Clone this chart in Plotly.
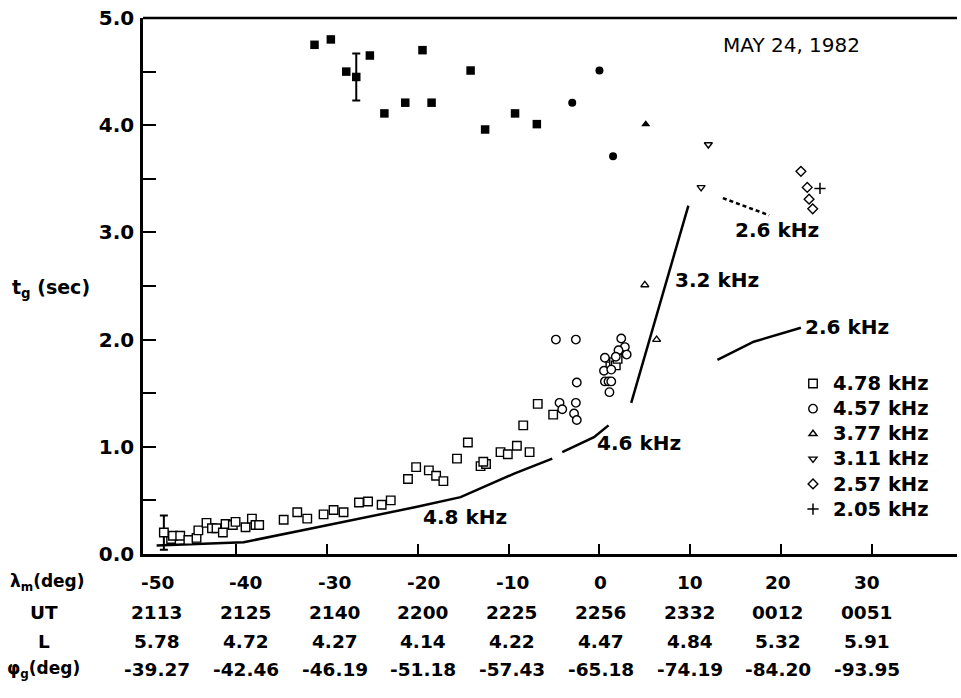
import plotly.graph_objects as go

# ---- group delay data (lambda_m in degrees, t_g in seconds) ----
sq478_x = [-47.2, -47.0, -46.2, -45.3, -44.4, -44.2, -43.3, -42.7, -42.2, -41.5,
           -41.2, -40.4, -40.1, -39.0, -38.3, -37.9, -37.5, -34.8, -33.3, -32.2,
           -30.4, -29.3, -28.2, -26.5, -25.5, -24.0, -23.0, -21.1, -20.2, -18.8,
           -18.0, -17.2, -15.7, -14.5, -13.1, -12.5, -12.8, -10.9, -10.1, -9.1,
           -7.7, -8.4, -6.8, -5.1, 1.2, 1.6, 1.8, 2.0]
sq478_y = [0.14, 0.17, 0.17, 0.13, 0.15, 0.22, 0.29, 0.24, 0.24, 0.20,
           0.28, 0.27, 0.30, 0.25, 0.33, 0.27, 0.27, 0.32, 0.39, 0.33,
           0.37, 0.41, 0.39, 0.48, 0.49, 0.46, 0.50, 0.70, 0.81, 0.78,
           0.73, 0.68, 0.89, 1.04, 0.82, 0.84, 0.86, 0.95, 0.93, 1.01,
           0.95, 1.20, 1.40, 1.30, 1.75, 1.79, 1.76, 1.82]
sq478_err_x = [-48.0]
sq478_err_y = [0.20]
sq478_err = [0.16]

ci457_x = [-4.8, -2.6, -2.5, -4.4, -4.1, -2.6, -2.8, -2.5, 2.4, 2.8,
           2.1, 3.0, 0.6, 0.5, 1.3, 0.6, 1.0, 1.3, 1.1, 1.8]
ci457_y = [2.00, 2.00, 1.60, 1.41, 1.35, 1.41, 1.31, 1.25, 2.01, 1.93,
           1.90, 1.86, 1.83, 1.71, 1.72, 1.61, 1.61, 1.61, 1.51, 1.84]

tu377_x = [5.0, 6.3]
tu377_y = [2.51, 2.00]
td311_x = [12.0, 11.2]
td311_y = [3.82, 3.42]
di257_x = [22.2, 22.9, 23.1, 23.5]
di257_y = [3.57, 3.42, 3.31, 3.22]
pl205_x = [24.3]
pl205_y = [3.41]

# filled symbols (upper group)
fsq_x = [-31.4, -29.6, -27.9, -25.3, -19.5, -23.7, -21.4, -18.5, -14.2, -12.6, -9.3, -6.9]
fsq_y = [4.75, 4.80, 4.50, 4.65, 4.70, 4.11, 4.21, 4.21, 4.51, 3.96, 4.11, 4.01]
fsq_err_x = [-26.8]
fsq_err_y = [4.45]
fsq_err = [0.22]
fci_x = [-3.0, 0.0, 1.5]
fci_y = [4.21, 4.51, 3.71]
ftr_x = [5.1]
ftr_y = [4.01]

# model curves
c48_x = [-48.8, -39.2, -31.1, -25.2, -20.1, -15.3, -13.1, -9.4, -5.2]
c48_y = [0.08, 0.11, 0.25, 0.35, 0.44, 0.53, 0.61, 0.75, 0.89]
c46_x = [-4.1, -0.6, 1.0]
c46_y = [0.95, 1.09, 1.20]
c32_x = [3.5, 9.8]
c32_y = [1.41, 3.25]
c26_x = [13.0, 17.0, 22.2]
c26_y = [1.81, 1.98, 2.11]
c26d_x = [13.6, 18.7]
c26d_y = [3.32, 3.16]

# table beneath the axis
lam_vals = ["-50", "-40", "-30", "-20", "-10", "0", "10", "20", "30"]
ut_vals = ["2113", "2125", "2140", "2200", "2225", "2256", "2332", "0012", "0051"]
l_vals = ["5.78", "4.72", "4.27", "4.14", "4.22", "4.47", "4.84", "5.32", "5.91"]
phi_vals = ["-39.27", "-42.46", "-46.19", "-51.18", "-57.43", "-65.18", "-74.19", "-84.20", "-93.95"]

y_ticks = [0, 1, 2, 3, 4, 5]
y_ticktext = ["0.0", "1.0", "2.0", "3.0", "4.0", "5.0"]
x_ticks = [-40, -30, -20, -10, 0, 10, 20, 30]

FONT = "DejaVu Sans"
BLK = "black"

# plot frame in pixels
W, H = 961, 698
PL, PR, PT, PB = 143, 957, 18, 554


def xp(px):
    return (px - PL) / (PR - PL)


def yp(py):
    return (PB - py) / (PB - PT)


def big(s):
    return f"<span style='font-size:19.5px'>{s}</span>"


fig = go.Figure()


def open_pts(x, y, sym, name, size=8, legend=True):
    fig.add_trace(go.Scatter(
        x=x, y=y, mode="markers", name=big(name), showlegend=legend,
        marker=dict(symbol=sym, size=size, color="white",
                    line=dict(color=BLK, width=1.4))))


def lines(x, y, dash="solid"):
    fig.add_trace(go.Scatter(x=x, y=y, mode="lines", showlegend=False,
                             line=dict(color=BLK, width=2.5, dash=dash)))


lines(c48_x, c48_y)
lines(c46_x, c46_y)
lines(c32_x, c32_y)
lines(c26_x, c26_y)
lines(c26d_x, c26d_y, dash="4px,3px")

open_pts(sq478_x, sq478_y, "square", "4.78 kHz", size=8.5)
fig.add_trace(go.Scatter(
    x=sq478_err_x, y=sq478_err_y, mode="markers", showlegend=False,
    marker=dict(symbol="square", size=8.5, color="white", line=dict(color=BLK, width=1.4)),
    error_y=dict(type="data", array=sq478_err, color=BLK, thickness=2, width=4)))
open_pts(ci457_x, ci457_y, "circle", "4.57 kHz", size=8.5)
open_pts(tu377_x, tu377_y, "triangle-up", "3.77 kHz", size=7)
open_pts(td311_x, td311_y, "triangle-down", "3.11 kHz", size=7)
open_pts(di257_x, di257_y, "diamond", "2.57 kHz", size=7.5)
fig.add_trace(go.Scatter(
    x=pl205_x, y=pl205_y, mode="markers", name=big("2.05 kHz"),
    marker=dict(symbol="cross-thin", size=8, color=BLK, line=dict(color=BLK, width=1.5))))

fig.add_trace(go.Scatter(x=fsq_x, y=fsq_y, mode="markers", showlegend=False,
                         marker=dict(symbol="square", size=8.5, color=BLK)))
fig.add_trace(go.Scatter(
    x=fsq_err_x, y=fsq_err_y, mode="markers", showlegend=False,
    marker=dict(symbol="square", size=8.5, color=BLK),
    error_y=dict(type="data", array=fsq_err, color=BLK, thickness=2, width=4)))
fig.add_trace(go.Scatter(x=fci_x, y=fci_y, mode="markers", showlegend=False,
                         marker=dict(symbol="circle", size=8, color=BLK)))
fig.add_trace(go.Scatter(x=ftr_x, y=ftr_y, mode="markers", showlegend=False,
                         marker=dict(symbol="triangle-up", size=8, color=BLK)))

ann = []


def label(text, x, y, xanchor="left", size=18, xref="x", yref="y", bold=True):
    ann.append(dict(text=f"<b>{text}</b>" if bold else text, x=x, y=y,
                    xref=xref, yref=yref, xanchor=xanchor, yanchor="middle",
                    showarrow=False, font=dict(family=FONT, size=size, color=BLK)))


# curve labels
label("4.8 kHz", -14.8, 0.345, xanchor="center", size=20)
label("4.6 kHz", -0.45, 1.035, size=20)
label("3.2 kHz", 8.05, 2.56, size=20)
label("2.6 kHz", 19.6, 3.02, xanchor="center", size=20)
label("2.6 kHz", 22.4, 2.12, size=20)

# date
label("MAY 24, 1982", xp(791), yp(45), xanchor="center", size=20,
      xref="paper", yref="paper", bold=False)

# y-axis title
label("t<sub>g</sub> (sec)", xp(10), yp(288), size=19, xref="paper", yref="paper")

# table rows
row_y = [582, 612, 641, 669]
rows = [lam_vals, ut_vals, l_vals, phi_vals]
col_px = [157 + 88.75 * i for i in range(len(lam_vals))]
for ry, vals in zip(row_y, rows):
    for cx, v in zip(col_px, vals):
        label(v, xp(cx), yp(ry), xanchor="center", size=18.5, xref="paper", yref="paper")

label("λ<sub>m</sub>(deg)", xp(8), yp(row_y[0]), size=17, xref="paper", yref="paper")
label("UT", xp(44), yp(row_y[1]), xanchor="center", size=18.5, xref="paper", yref="paper")
label("L", xp(44), yp(row_y[2]), xanchor="center", size=18.5, xref="paper", yref="paper")
label("φ<sub>g</sub>(deg)", xp(5), yp(row_y[3]), size=17, xref="paper", yref="paper")

fig.update_layout(
    width=W, height=H,
    margin=dict(l=PL, r=W - PR, t=PT, b=H - PB),
    paper_bgcolor="white", plot_bgcolor="white",
    annotations=ann,
    font=dict(family=FONT, size=17, color=BLK),
    showlegend=True,
    legend=dict(x=xp(793), y=yp(366), xanchor="left", yanchor="top",
                bgcolor="rgba(0,0,0,0)", borderwidth=0, tracegroupgap=0,
                itemwidth=30,
                font=dict(family=FONT, size=17, color=BLK, weight="bold")),
    shapes=[dict(type="line", xref="paper", yref="paper", x0=0, x1=1, y0=1, y1=1,
                 line=dict(color=BLK, width=2.5))],
)

fig.update_xaxes(range=[-50.3, 39.4], tickvals=x_ticks, showticklabels=False,
                 ticks="inside", ticklen=10, tickwidth=2, tickcolor=BLK,
                 showline=True, linecolor=BLK, linewidth=2.5,
                 showgrid=False, zeroline=False)
fig.update_yaxes(range=[0, 5], tickvals=y_ticks, ticktext=y_ticktext,
                 ticks="inside", ticklen=13, tickwidth=2, tickcolor=BLK,
                 minor=dict(dtick=0.5, ticks="inside", ticklen=13, tickwidth=2,
                            tickcolor=BLK, showgrid=False),
                 showline=True, linecolor=BLK, linewidth=2.5,
                 showgrid=False, zeroline=False, ticklabelstandoff=2,
                 tickfont=dict(family=FONT, size=20, color=BLK, weight="bold"))

fig.write_html("out.html")
